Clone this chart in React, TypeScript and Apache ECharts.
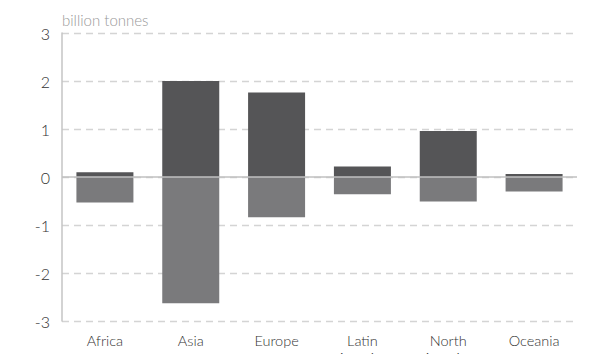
import React, { useEffect, useRef } from "react";
import * as echarts from "echarts";

const categories = ["Africa", "Asia", "Europe", "Latin America", "North America", "Oceania"];
const positiveValues = [0.1, 2.0, 1.76, 0.22, 0.96, 0.06];
const negativeValues = [-0.53, -2.63, -0.84, -0.36, -0.51, -0.3];
const yTicks = { min: -3, max: 3, interval: 1 };
const unitLabel = "billion tonnes";

export default function App() {
  const ref = useRef<HTMLDivElement>(null);
  useEffect(() => {
    document.body.style.margin = "0";
    const chart = echarts.init(ref.current!, null, { renderer: "svg" });
    const font = "Lato, 'DejaVu Sans', sans-serif";
    chart.setOption({
      animation: false,
      backgroundColor: "#ffffff",
      textStyle: { fontFamily: font },
      grid: { left: 62, right: 12, top: 33, bottom: 33, containLabel: false, outerBoundsMode: "none" },
      xAxis: {
        type: "category",
        data: categories,
        axisLine: { show: false },
        axisTick: { show: false },
        axisLabel: {
          interval: 0,
          margin: 11,
          color: "#333",
          fontSize: 14.5,
          fontWeight: 300,
          lineHeight: 17,
          fontFamily: font,
          hideOverlap: false,
          formatter: (v: string) => v.replace(" ", "\n"),
        },
      },
      yAxis: {
        type: "value",
        min: yTicks.min,
        max: yTicks.max,
        interval: yTicks.interval,
        name: unitLabel,
        nameLocation: "end",
        nameGap: 6,
        nameTextStyle: { align: "left", color: "#999", fontSize: 15, fontWeight: 300, fontFamily: font },
        axisLine: { show: true, lineStyle: { color: "#c4c4c4", width: 1.5 } },
        axisTick: { show: false },
        axisLabel: { color: "#333", fontSize: 16, fontWeight: 300, margin: 12, fontFamily: font },
        splitLine: { show: true, lineStyle: { color: "#d4d4d4", type: [7, 5], width: 1.3 } },
      },
      series: [
        {
          type: "bar",
          name: "positive",
          stack: "total",
          data: positiveValues,
          barWidth: 57,
          itemStyle: { color: "#555557" },
        },
        {
          type: "bar",
          name: "negative",
          stack: "total",
          data: negativeValues,
          barWidth: 57,
          itemStyle: { color: "#7a7a7c" },
          markLine: {
            silent: true,
            symbol: "none",
            label: { show: false },
            lineStyle: { color: "#c0c0c0", type: "solid", width: 1.5 },
            data: [{ yAxis: 0 }],
          },
        },
      ],
    });
    return () => chart.dispose();
  }, []);
  return <div ref={ref} style={{ width: 589, height: 354 }} />;
}
